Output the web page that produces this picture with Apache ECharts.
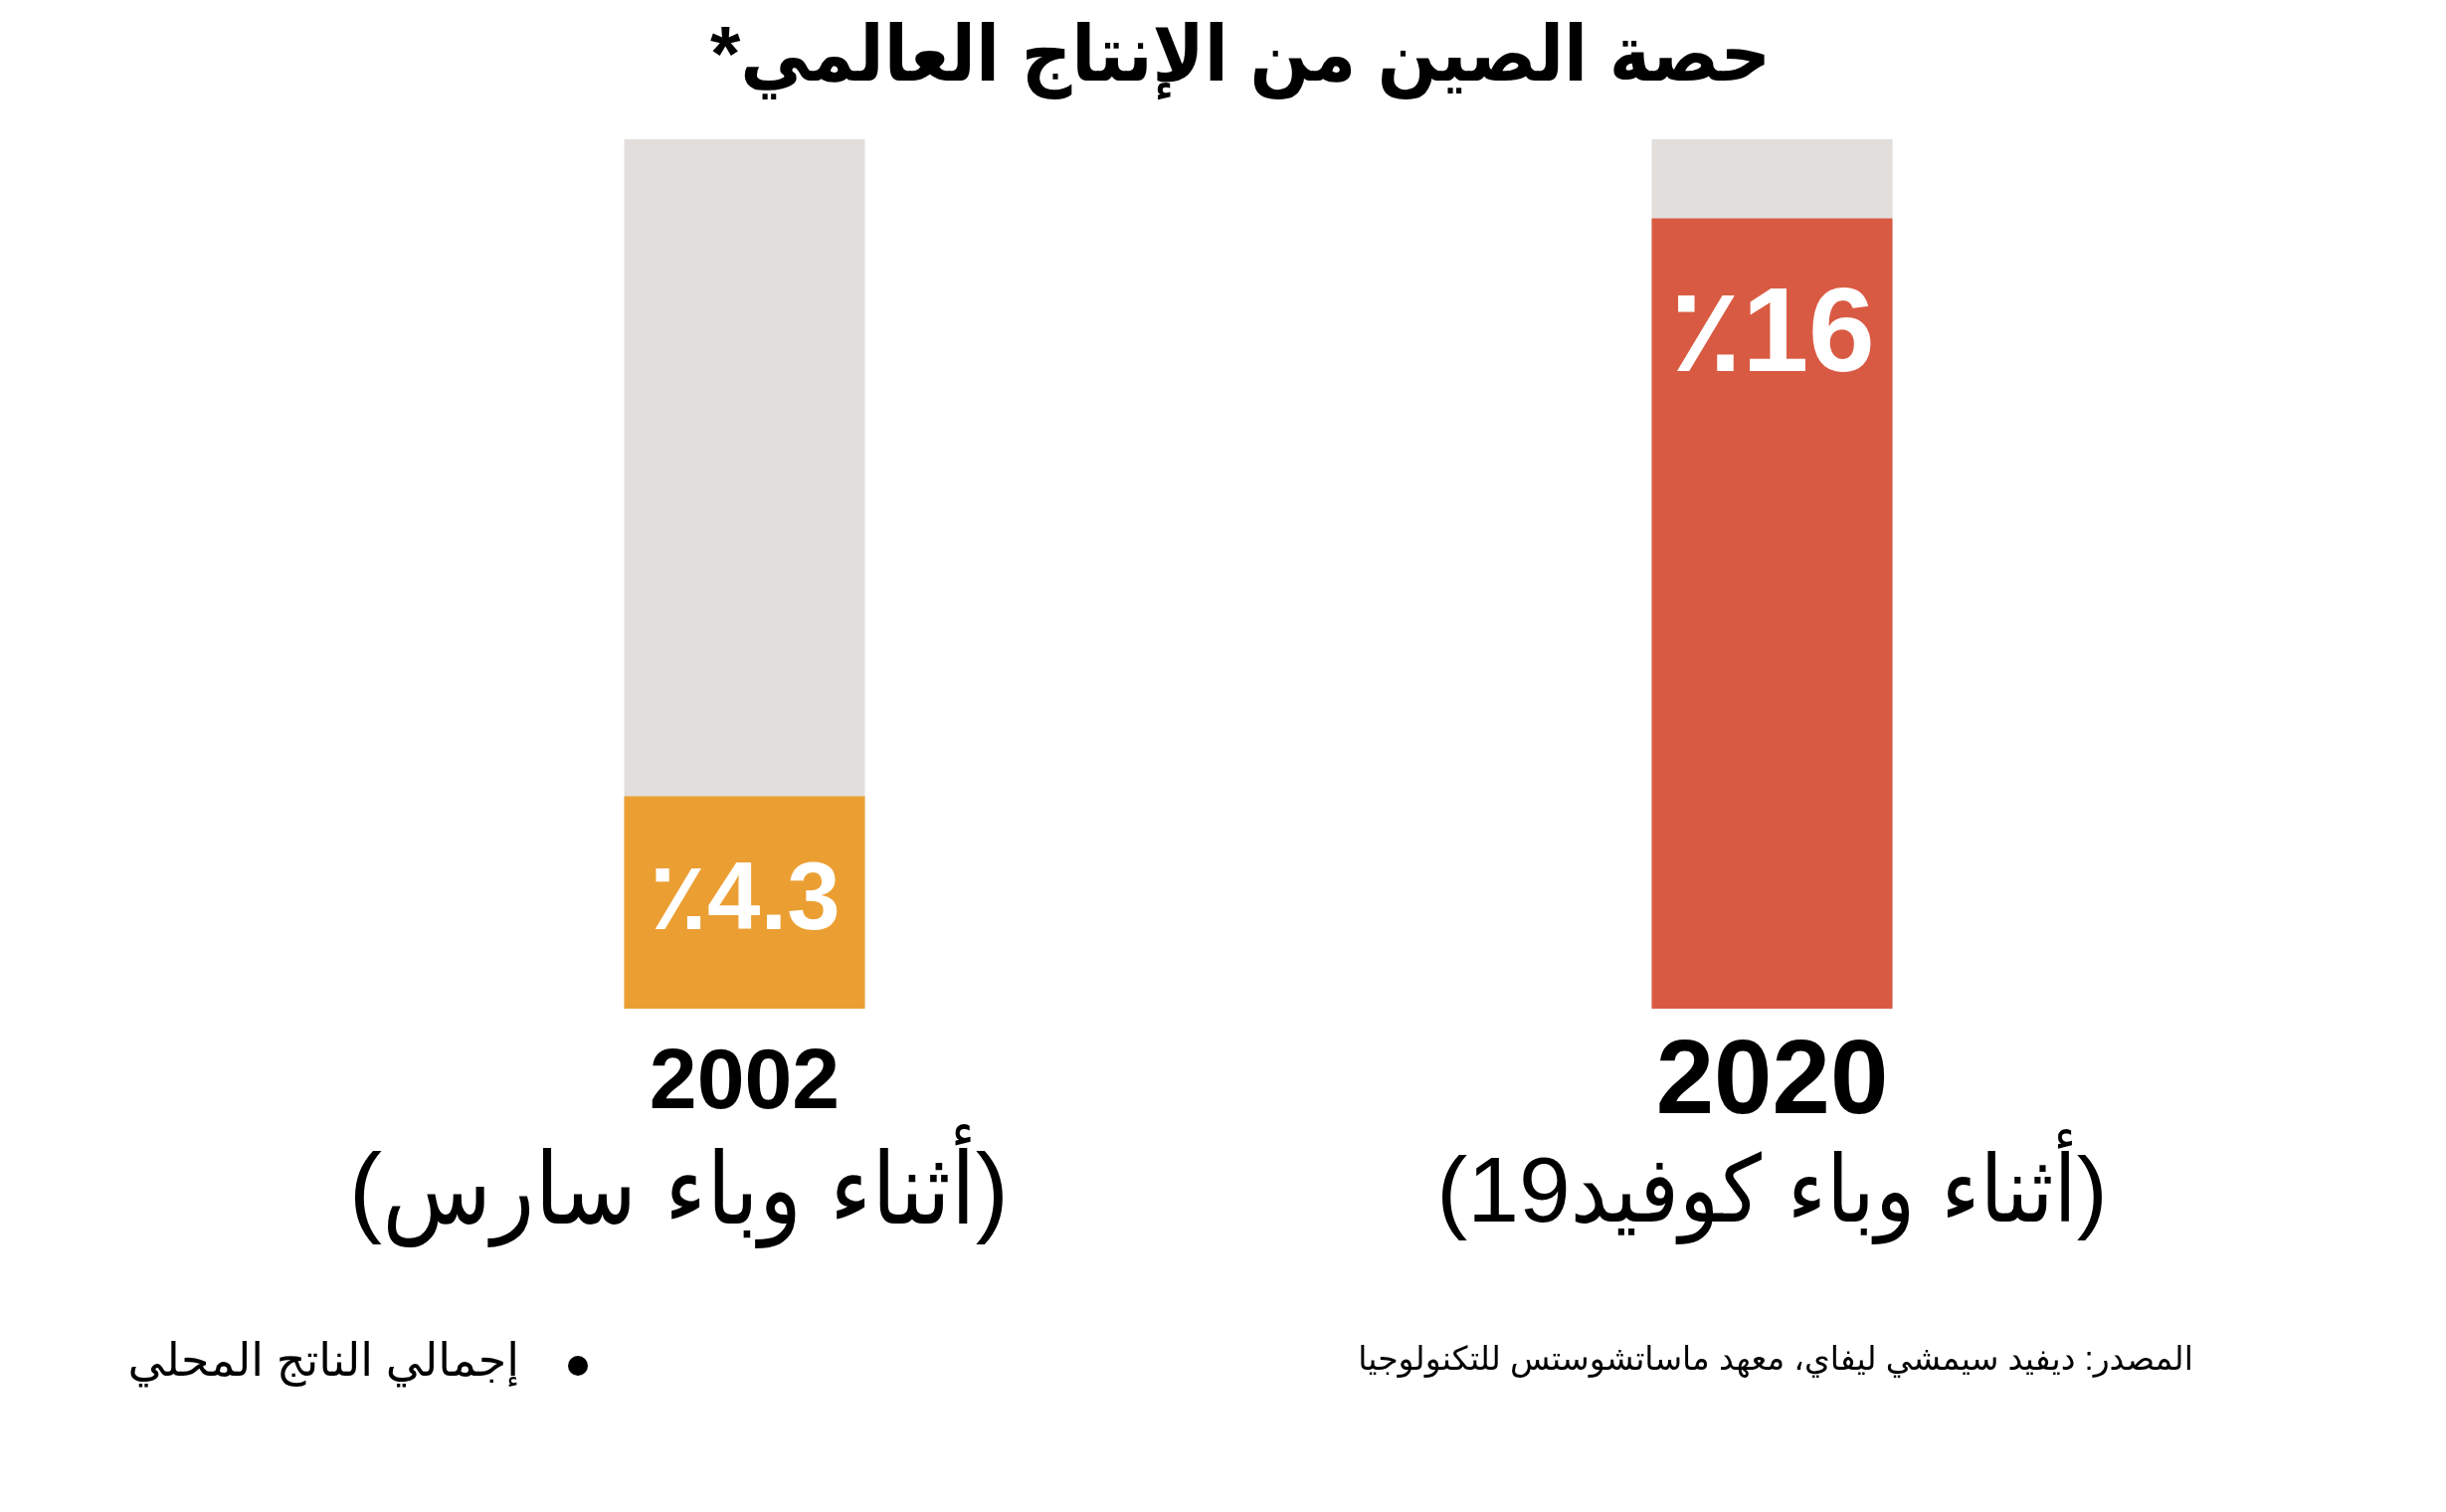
<!DOCTYPE html>
<html>
<head>
<meta charset="utf-8">
<script src="https://cdn.jsdelivr.net/npm/echarts@6/dist/echarts.min.js"></script>
<style>
html,body{margin:0;padding:0;background:#fff;}
#chart{width:2459px;height:1520px;}
</style>
</head>
<body>
<div id="chart"></div>
<script>
// ---- data ----
const years = ['2002', '2020'];
const periods = ['(أثناء وباء سارس)', '(أثناء وباء كوفيد19)'];
const shareValues = [4.3, 16];
const titleText = '*حصة الصين من الإنتاج العالمي';
const footnoteText = 'إجمالي الناتج المحلي';
const sourceText = 'المصدر: ديفيد سيمشي ليفاي، معهد ماساتشوستس للتكنولوجيا';

// ---- styles ----
const barColors = ['#eb9f33', '#d95a43'];
const labelSizes = [96, 120];
const yearSizes = [86, 105];
const fontStack = '"Liberation Sans", Arial, "DejaVu Sans", sans-serif';
const condStack = '"Liberation Sans", Arial, "DejaVu Sans Condensed", "DejaVu Sans", sans-serif';

const chart = echarts.init(document.getElementById('chart'));

const dataItems = shareValues.map((v, i) => ({
  value: v,
  itemStyle: { color: barColors[i] },
  label: i === 0
    ? { position: 'inside', fontSize: labelSizes[i] }
    : { position: 'insideTop', distance: 60, fontSize: labelSizes[i] }
}));

const option = {
  backgroundColor: '#ffffff',
  animation: false,
  grid: { left: 232, right: 161, top: 140, bottom: 506 },
  xAxis: {
    type: 'category',
    data: years,
    axisLine: { show: false },
    axisTick: { show: false },
    axisLabel: {
      margin: 24,
      interval: 0,
      formatter: function (val, idx) {
        return '{y' + idx + '|' + val + '}\n{s' + idx + '|' + periods[idx] + '}';
      },
      rich: {
        y0: { fontSize: yearSizes[0], fontWeight: 'bold', fontFamily: fontStack, color: '#000', lineHeight: 104 },
        y1: { fontSize: yearSizes[1], fontWeight: 'bold', fontFamily: fontStack, color: '#000', lineHeight: 104 },
        s0: { fontSize: 100, fontFamily: condStack, color: '#000', lineHeight: 120, padding: [0, 132, 0, 0] },
        s1: { fontSize: 93, fontFamily: condStack, color: '#000', lineHeight: 120 }
      }
    }
  },
  yAxis: {
    type: 'value',
    min: 0,
    max: 17.6,
    show: false,
    splitLine: { show: false }
  },
  series: [{
    type: 'bar',
    data: dataItems,
    barWidth: 242,
    showBackground: true,
    backgroundStyle: { color: '#e2dedb' },
    label: {
      show: true,
      color: '#ffffff',
      fontWeight: 'bold',
      fontFamily: fontStack,
      formatter: function (p) { return '٪' + p.value; }
    }
  }],
  graphic: [
    {
      type: 'text', x: 1247, y: 20,
      style: { text: titleText, fill: '#000', font: 'bold 78px ' + condStack, textAlign: 'center' }
    },
    {
      type: 'text', x: 522, y: 1370,
      style: { text: footnoteText, fill: '#000', font: '46px ' + fontStack, textAlign: 'right', textVerticalAlign: 'middle' }
    },
    {
      type: 'circle', shape: { cx: 581, cy: 1373, r: 10 },
      style: { fill: '#000' }
    },
    {
      type: 'text', x: 1785, y: 1368,
      style: { text: sourceText, fill: '#000', font: '33px ' + fontStack, textAlign: 'center', textVerticalAlign: 'middle' }
    }
  ]
};
chart.setOption(option);
</script>
</body>
</html>
